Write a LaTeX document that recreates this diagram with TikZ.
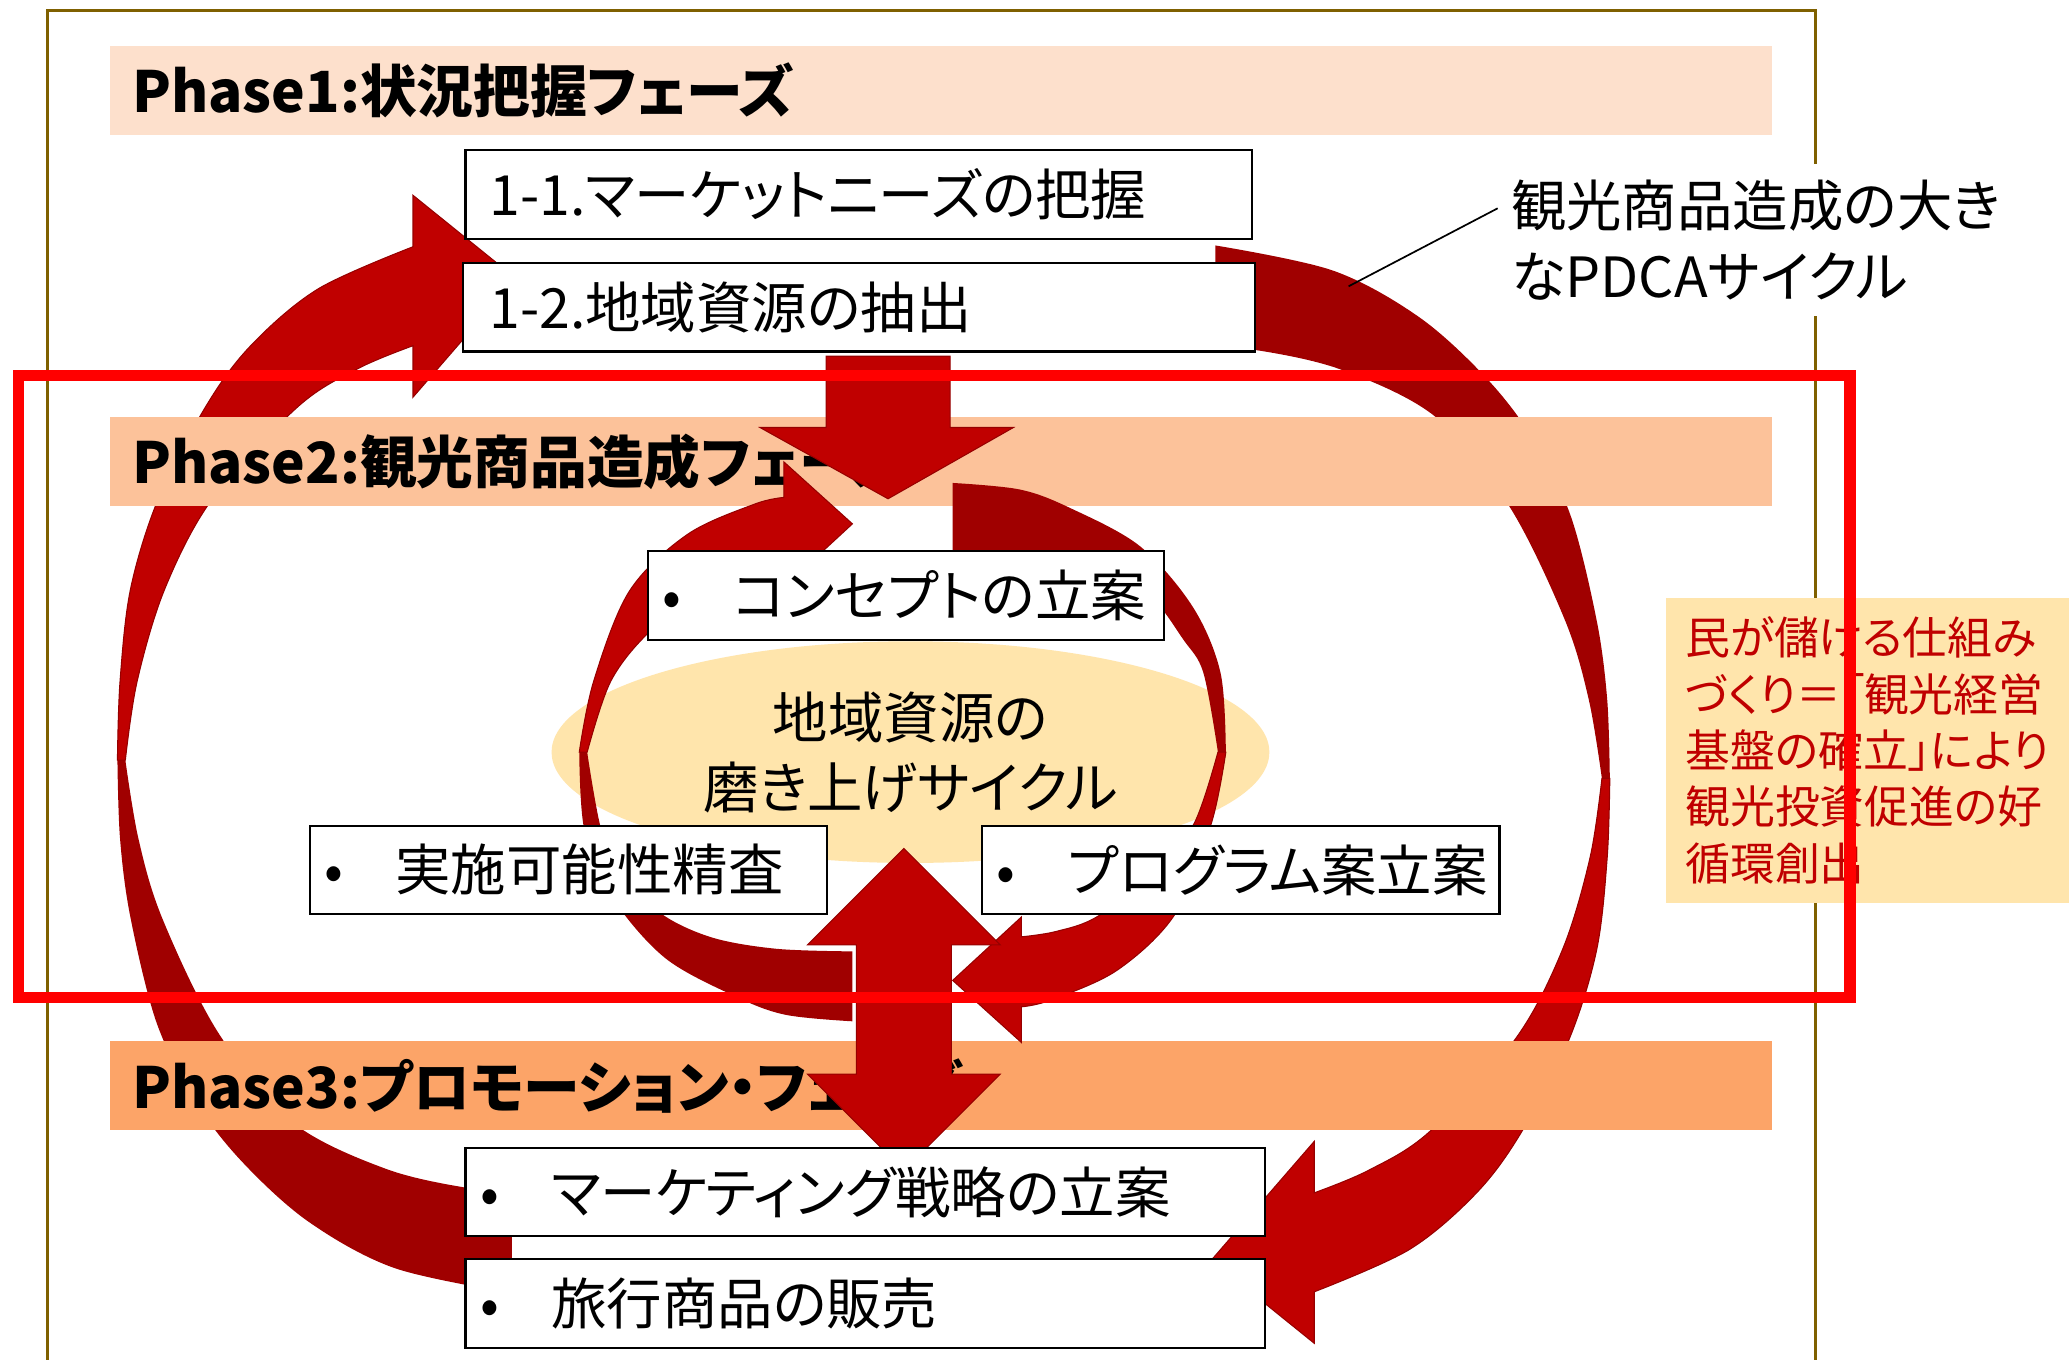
\documentclass[tikz,border=0pt]{standalone}
\usepackage{fontspec}
\setmainfont{Noto Sans CJK JP}[RawFeature=+palt]
\usetikzlibrary{positioning, shapes.geometric}

\definecolor{phaseone}{RGB}{253,224,204}
\definecolor{phasetwo}{RGB}{252,194,154}
\definecolor{phasethree}{RGB}{252,164,104}
\definecolor{darkred}{RGB}{160,0,0}
\definecolor{midred}{RGB}{192,0,0}
\definecolor{edgered}{RGB}{150,0,0}
\definecolor{cream}{RGB}{255,229,172}
\definecolor{framebrown}{RGB}{127,96,0}

% halves of the big PDCA arrow (right one, the left one is the same turned by 180 degrees)
\newcommand\pdcaBack{plot[smooth, tension=0.55] coordinates {(921,186) (1010,205) (1075,240) (1125,285) (1160,330) (1190,390) (1210,470) (1218,530) (1220,590)}
  -- plot[smooth, tension=0.55] coordinates {(1214,590) (1204,530) (1186,470) (1144,384) (1088,316) (1016,280) (950,265) (921,265)} -- cycle}
\newcommand\pdcaFront{plot[smooth, tension=0.55] coordinates {(1220,590) (1218,650) (1210,720) (1189,788) (1153,858) (1119,904) (1068,947) (996,979)}
  -- (996,1018) -- (918,955) -- (996,865) -- (996,904)
  -- plot[smooth, tension=0.55] coordinates {(996,904) (1037,887) (1083,858) (1148,788) (1184,720) (1205,650) (1214,590)} -- cycle}
% halves of the small cycle arrow
\newcommand\cycBack{plot[smooth, tension=0.55] coordinates {(722,366) (773,371) (811,385) (864,414) (904,460) (925,510) (929,570)}
  -- plot[smooth, tension=0.55] coordinates {(923,570) (912,510) (897,485) (870,450) (830,430) (780,421) (722,419)} -- cycle}
\newcommand\cycFront{plot[smooth, tension=0.55] coordinates {(929,570) (918,624) (891,692) (847,735) (796,758) (774,763)}
  -- (774,790) -- (722,743) -- (774,695) -- (774,710)
  -- plot[smooth, tension=0.55] coordinates {(774,710) (800,706) (831,695) (875,662) (905,624) (923,570)} -- cycle}
\newcommand\taskdot{\makebox[54pt][l]{•}}

\begin{document}
\begin{tikzpicture}[x=1pt, y=-1pt, node distance=17pt,
    band/.style={fill=#1, anchor=north west, minimum height=67pt, text width=1226pt,
      inner xsep=17pt, inner ysep=0pt, align=left, font=\bfseries\fontsize{43}{50}\selectfont},
    task/.style={draw, line width=1.6pt, fill=white, minimum height=67pt, text width=#1,
      inner ysep=0pt, inner xsep=11pt, align=left, font=\fontsize{42}{50}\selectfont},
    back/.style={fill=darkred},
    front/.style={fill=midred, draw=edgered, line width=0.8pt},
    block/.style={fill=midred, draw=edgered, line width=0.8pt},
  ]
  \useasboundingbox (0,0) rectangle (1568,1030);
  \fill[white] (0,0) rectangle (1568,1030);
  \clip (0,0) rectangle (1568,1030);

  % Frame
  \draw[framebrown, line width=2pt] (36,8) rectangle (1376,1060);

  % Big PDCA cycle
  \fill[back] \pdcaBack;
  \path[front] \pdcaFront;
  \begin{scope}[rotate around={180:(654.5,583)}]
    \fill[back] \pdcaBack;
    \path[front] \pdcaFront;
  \end{scope}

  % Phase bands
  \node[band=phaseone] (p1) at (83,35) {Phase1:状況把握フェーズ};
  \node[band=phasetwo] (p2) at (83,316) {Phase2:観光商品造成フェーズ};
  \node[band=phasethree] (p3) at (83,789) {Phase3:プロモーション・フェーズ};

  % Small cycle
  \node[ellipse, fill=cream, minimum width=544pt, minimum height=168pt, inner sep=0pt,
    align=center, font=\fontsize{42}{53}\selectfont] (core) at (690,570) {地域資源の\\磨き上げサイクル};
  \fill[back] \cycBack;
  \path[front] \cycFront;
  \begin{scope}[rotate around={180:(684,570)}]
    \fill[back] \cycBack;
    \path[front] \cycFront;
  \end{scope}

  % Block arrows between the phases
  \path[block] (626,270) -- (720,270) -- (720,324) -- (768,324) -- (673,378) -- (576,324) -- (626,324) -- cycle;
  \path[block] (685,643) -- (758,716) -- (721,716) -- (721,814) -- (758,814) -- (685,887)
    -- (612,814) -- (649,814) -- (649,716) -- (612,716) -- cycle;

  % Phase 1 tasks
  \node[task=560pt, inner xsep=18pt, anchor=north west] (b11) at (352,113) {1-1.マーケットニーズの把握};
  \node[task=560pt, inner xsep=20pt, below=of b11] (b12) {1-2.地域資源の抽出};

  % Phase 2 tasks
  \node[task=369pt, anchor=north west] (c1) at (490,417) {\taskdot コンセプトの立案};
  \node[task=370pt, anchor=north west] (c2) at (234,625) {\taskdot 実施可能性精査};
  \node[task=370pt, right=116pt of c2] (c3) {\taskdot プログラム案立案};

  % Phase 3 tasks
  \node[task=584pt, anchor=north west] (d1) at (352,869) {\taskdot マーケティング戦略の立案};
  \node[task=584pt, below=16pt of d1] (d2) {\taskdot 旅行商品の販売};

  % Notes
  \node[fill=white, anchor=north west, inner xsep=10pt, inner ysep=12pt, align=left,
    font=\fontsize{42}{54}\selectfont] (pdca) at (1135,124) {観光商品造成の大き\\なPDCAサイクル};
  \coordinate (pdcatip) at (1022,217);
  \draw[line width=1.3pt] (pdca.173) -- (pdcatip);

  \node[fill=cream, anchor=north west, minimum width=330pt, minimum height=231pt, text width=300pt,
    inner xsep=15pt, inner ysep=0pt, align=left, text=midred,
    font=\fontsize{34}{42.75}\selectfont] (gain) at (1262,453)
    {民が儲ける仕組み\\づくり＝「観光経営\\基盤の確立」により\\観光投資促進の好\\循環創出};

  % Phase 2 focus
  \draw[red, line width=8.5pt] (14,284.5) rectangle (1402,756);
\end{tikzpicture}
\end{document}
